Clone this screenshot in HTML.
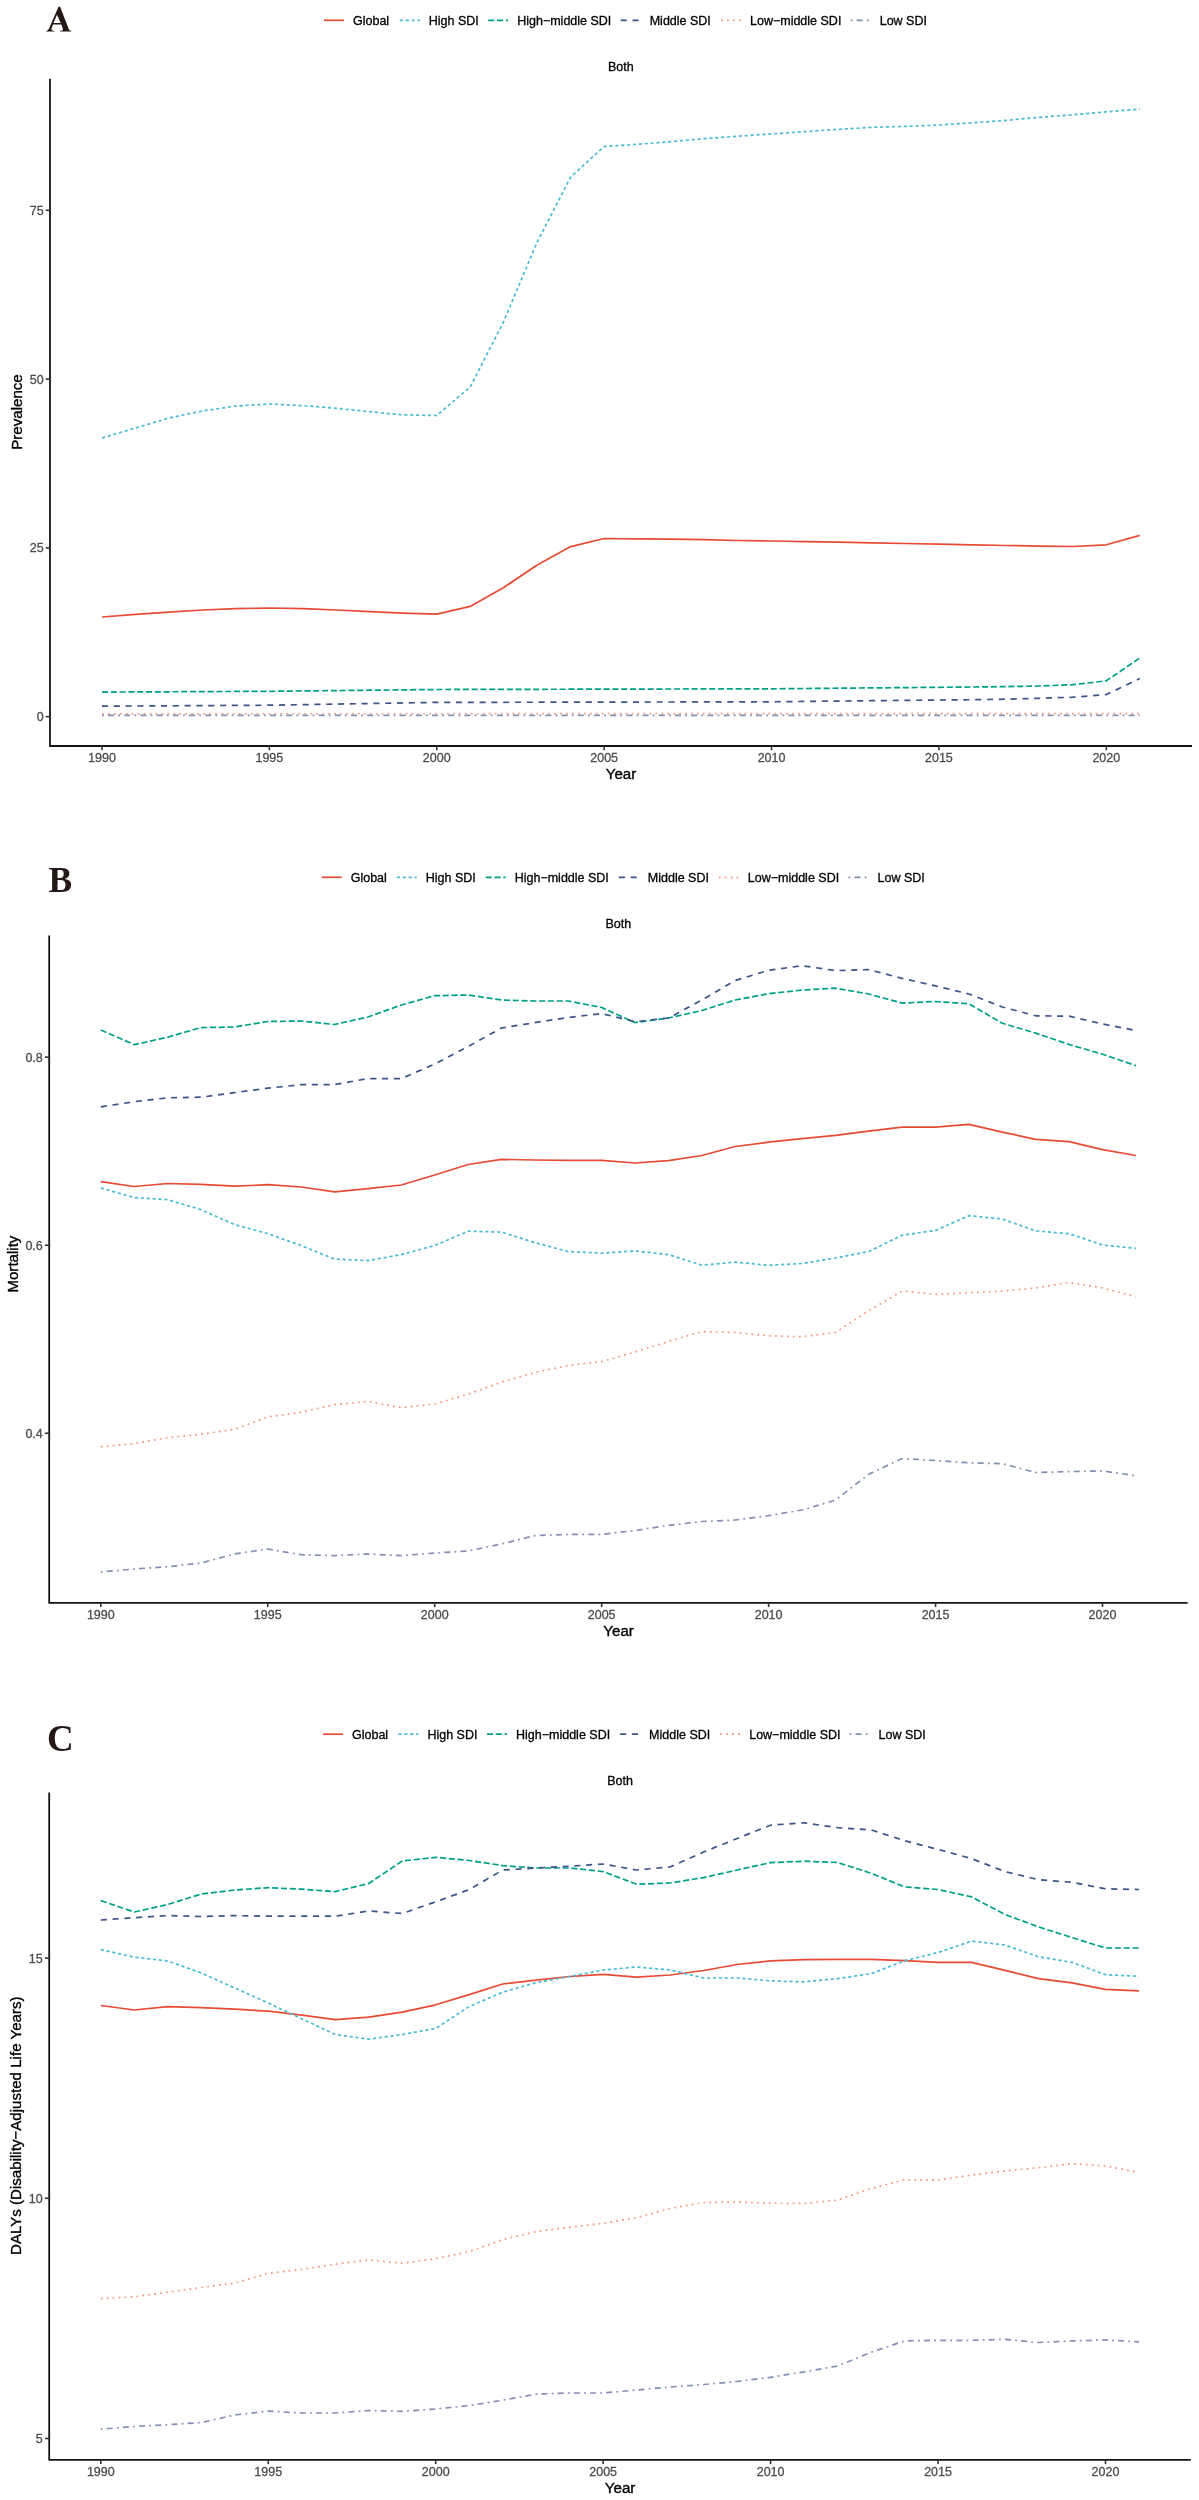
<!DOCTYPE html>
<html><head><meta charset="utf-8"><title>Figure</title>
<style>
html,body{margin:0;padding:0;background:#fff;}
svg{display:block;will-change:transform;}
.tk{font-family:"Liberation Sans",sans-serif;font-size:12.5px;fill:#4D4D4D;stroke:#4D4D4D;stroke-width:0.3px;}
.lg{font-family:"Liberation Sans",sans-serif;font-size:12.5px;fill:#000;stroke:#000;stroke-width:0.3px;}
.ti{font-family:"Liberation Sans",sans-serif;font-size:15.1px;fill:#000;stroke:#000;stroke-width:0.35px;}
.lt{font-family:"Liberation Serif",serif;font-weight:bold;font-size:35.5px;fill:#231815;}
</style></head>
<body>
<svg width="1199" height="2500" viewBox="0 0 1199 2500">
<rect width="1199" height="2500" fill="#fff"/>
<polyline points="102.00,617.00 135.48,614.30 168.95,612.20 202.43,610.00 235.91,608.60 269.38,608.00 302.86,608.60 336.34,610.00 369.82,611.60 403.29,613.10 436.77,614.20 470.25,606.40 503.72,587.50 537.20,565.00 570.68,546.60 604.15,538.50 637.63,538.80 671.11,539.10 704.59,539.60 738.06,540.50 771.54,541.00 805.02,541.60 838.49,542.20 871.97,542.90 905.45,543.50 938.92,544.20 972.40,544.80 1005.88,545.50 1039.36,546.10 1072.83,546.50 1106.31,544.80 1139.79,535.40" fill="none" stroke="#E64B35" stroke-width="1.7" stroke-linejoin="round"/>
<polyline points="102.00,438.00 135.48,428.00 168.95,418.00 202.43,411.00 235.91,406.00 269.38,404.00 302.86,405.60 336.34,408.30 369.82,411.70 403.29,414.90 436.77,415.50 470.25,386.90 503.72,321.50 537.20,242.00 570.68,177.00 604.15,146.50 637.63,144.30 671.11,141.60 704.59,138.60 738.06,136.20 771.54,133.90 805.02,131.60 838.49,129.30 871.97,127.30 905.45,126.40 938.92,125.00 972.40,122.80 1005.88,120.40 1039.36,117.30 1072.83,114.80 1106.31,111.90 1139.79,109.00" fill="none" stroke="#4DBBD5" stroke-width="1.7" stroke-dasharray="3.2 2.7" stroke-linejoin="round"/>
<polyline points="102.00,692.10 135.48,691.94 168.95,691.78 202.43,691.62 235.91,691.46 269.38,691.30 302.86,690.94 336.34,690.58 369.82,690.22 403.29,689.86 436.77,689.50 470.25,689.43 503.72,689.36 537.20,689.29 570.68,689.22 604.15,689.15 637.63,689.08 671.11,689.01 704.59,688.94 738.06,688.87 771.54,688.80 805.02,688.50 838.49,688.20 871.97,687.90 905.45,687.60 938.92,687.30 972.40,687.00 1005.88,686.60 1039.36,686.00 1072.83,684.70 1106.31,680.80 1139.79,658.00" fill="none" stroke="#00A087" stroke-width="1.7" stroke-dasharray="6.1 2.7" stroke-linejoin="round"/>
<polyline points="102.00,706.20 135.48,706.00 168.95,705.80 202.43,705.60 235.91,705.40 269.38,705.20 302.86,704.64 336.34,704.08 369.82,703.52 403.29,702.96 436.77,702.40 470.25,702.34 503.72,702.28 537.20,702.22 570.68,702.16 604.15,702.10 637.63,702.04 671.11,701.98 704.59,701.92 738.06,701.86 771.54,701.80 805.02,701.44 838.49,701.08 871.97,700.72 905.45,700.36 938.92,700.00 972.40,699.70 1005.88,699.20 1039.36,698.30 1072.83,697.20 1106.31,694.60 1139.79,678.50" fill="none" stroke="#3C5488" stroke-width="1.7" stroke-dasharray="6.1 5.7" stroke-linejoin="round"/>
<polyline points="102.00,713.80 135.48,713.79 168.95,713.79 202.43,713.78 235.91,713.77 269.38,713.77 302.86,713.76 336.34,713.75 369.82,713.75 403.29,713.74 436.77,713.74 470.25,713.73 503.72,713.72 537.20,713.72 570.68,713.71 604.15,713.70 637.63,713.70 671.11,713.69 704.59,713.68 738.06,713.68 771.54,713.67 805.02,713.66 838.49,713.66 871.97,713.65 905.45,713.65 938.92,713.64 972.40,713.63 1005.88,713.63 1039.36,713.62 1072.83,713.61 1106.31,713.61 1139.79,713.60" fill="none" stroke="#F39B7F" stroke-width="1.7" stroke-dasharray="1.8 4.15" stroke-linejoin="round"/>
<polyline points="102.00,715.30 135.48,715.30 168.95,715.30 202.43,715.30 235.91,715.30 269.38,715.30 302.86,715.30 336.34,715.30 369.82,715.30 403.29,715.30 436.77,715.30 470.25,715.30 503.72,715.30 537.20,715.30 570.68,715.30 604.15,715.30 637.63,715.30 671.11,715.30 704.59,715.30 738.06,715.30 771.54,715.30 805.02,715.30 838.49,715.30 871.97,715.30 905.45,715.30 938.92,715.30 972.40,715.30 1005.88,715.30 1039.36,715.30 1072.83,715.30 1106.31,715.30 1139.79,715.30" fill="none" stroke="#8491B4" stroke-width="1.7" stroke-dasharray="1.8 4.2 6.0 4.2" stroke-linejoin="round"/>
<path d="M50,78.7 V746 H1192" fill="none" stroke="#141414" stroke-width="1.8" stroke-linecap="butt" stroke-linejoin="miter"/>
<line x1="45.70" y1="716.7" x2="50" y2="716.7" stroke="#333" stroke-width="1.6"/>
<text x="43.6" y="721.25" class="tk" text-anchor="end">0</text>
<line x1="45.70" y1="547.9" x2="50" y2="547.9" stroke="#333" stroke-width="1.6"/>
<text x="43.6" y="552.45" class="tk" text-anchor="end">25</text>
<line x1="45.70" y1="379.1" x2="50" y2="379.1" stroke="#333" stroke-width="1.6"/>
<text x="43.6" y="383.65" class="tk" text-anchor="end">50</text>
<line x1="45.70" y1="210.3" x2="50" y2="210.3" stroke="#333" stroke-width="1.6"/>
<text x="43.6" y="214.85" class="tk" text-anchor="end">75</text>
<line x1="102.00" y1="746" x2="102.00" y2="750.30" stroke="#333" stroke-width="1.6"/>
<text x="102.00" y="762.0" class="tk" text-anchor="middle">1990</text>
<line x1="269.38" y1="746" x2="269.38" y2="750.30" stroke="#333" stroke-width="1.6"/>
<text x="269.38" y="762.0" class="tk" text-anchor="middle">1995</text>
<line x1="436.77" y1="746" x2="436.77" y2="750.30" stroke="#333" stroke-width="1.6"/>
<text x="436.77" y="762.0" class="tk" text-anchor="middle">2000</text>
<line x1="604.15" y1="746" x2="604.15" y2="750.30" stroke="#333" stroke-width="1.6"/>
<text x="604.15" y="762.0" class="tk" text-anchor="middle">2005</text>
<line x1="771.54" y1="746" x2="771.54" y2="750.30" stroke="#333" stroke-width="1.6"/>
<text x="771.54" y="762.0" class="tk" text-anchor="middle">2010</text>
<line x1="938.92" y1="746" x2="938.92" y2="750.30" stroke="#333" stroke-width="1.6"/>
<text x="938.92" y="762.0" class="tk" text-anchor="middle">2015</text>
<line x1="1106.31" y1="746" x2="1106.31" y2="750.30" stroke="#333" stroke-width="1.6"/>
<text x="1106.31" y="762.0" class="tk" text-anchor="middle">2020</text>
<line x1="324.00" y1="20.3" x2="344.00" y2="20.3" stroke="#E64B35" stroke-width="1.7"/>
<text x="353.00" y="24.75" class="lg">Global</text>
<line x1="399.80" y1="20.3" x2="419.80" y2="20.3" stroke="#4DBBD5" stroke-width="1.7" stroke-dasharray="3.2 2.7"/>
<text x="428.80" y="24.75" class="lg">High SDI</text>
<line x1="488.20" y1="20.3" x2="508.20" y2="20.3" stroke="#00A087" stroke-width="1.7" stroke-dasharray="6.1 2.7"/>
<text x="517.20" y="24.75" class="lg">High−middle SDI</text>
<line x1="620.70" y1="20.3" x2="640.70" y2="20.3" stroke="#3C5488" stroke-width="1.7" stroke-dasharray="6.1 5.7"/>
<text x="649.70" y="24.75" class="lg">Middle SDI</text>
<line x1="721.00" y1="20.3" x2="741.00" y2="20.3" stroke="#F39B7F" stroke-width="1.7" stroke-dasharray="1.8 4.15"/>
<text x="750.00" y="24.75" class="lg">Low−middle SDI</text>
<line x1="850.70" y1="20.3" x2="870.70" y2="20.3" stroke="#8491B4" stroke-width="1.7" stroke-dasharray="1.8 4.2 6.0 4.2"/>
<text x="879.70" y="24.75" class="lg">Low SDI</text>
<text x="620.9" y="71.3" class="lg" text-anchor="middle">Both</text>
<text x="621" y="779" class="ti" text-anchor="middle">Year</text>
<text x="0" y="0" class="ti" text-anchor="middle" transform="translate(21.9,412) rotate(-90)">Prevalence</text>
<path fill="#231815" fill-rule="evenodd" d="M58.5,6.8 L60.1,6.8 L68.9,29.5 Q69.6,30.7 71.4,30.9 L71.4,31.5 L60.0,31.5 L60.0,30.9 Q63.0,30.8 63.0,29.6 L61.4,24.4 L53.0,24.4 L51.4,29.0 Q51.2,30.8 54.4,30.9 L54.4,31.5 L46.2,31.5 L46.2,30.9 Q48.0,30.7 48.8,29.0 Z M57.0,14.8 L53.5,23.0 L60.7,23.0 Z"/>
<polyline points="100.80,1181.65 134.19,1186.50 167.58,1183.50 200.97,1184.40 234.36,1186.20 267.75,1184.70 301.14,1187.00 334.53,1191.90 367.92,1188.60 401.31,1185.00 434.70,1175.00 468.09,1164.50 501.48,1159.40 534.87,1160.00 568.26,1160.30 601.65,1160.30 635.04,1163.00 668.43,1160.60 701.82,1155.50 735.21,1146.50 768.60,1142.20 801.99,1138.60 835.38,1135.40 868.77,1131.10 902.16,1127.20 935.55,1127.20 968.94,1124.30 1002.33,1132.10 1035.72,1139.30 1069.11,1141.60 1102.50,1149.70 1135.89,1155.50" fill="none" stroke="#E64B35" stroke-width="1.7" stroke-linejoin="round"/>
<polyline points="100.80,1188.00 134.19,1197.60 167.58,1199.70 200.97,1209.60 234.36,1224.60 267.75,1233.60 301.14,1245.60 334.53,1259.10 367.92,1260.60 401.31,1254.60 434.70,1245.50 468.09,1231.20 501.48,1232.10 534.87,1242.60 568.26,1251.60 601.65,1253.10 635.04,1251.00 668.43,1254.60 701.82,1265.20 735.21,1262.10 768.60,1265.30 801.99,1263.50 835.38,1258.00 868.77,1251.50 902.16,1235.20 935.55,1230.40 968.94,1215.70 1002.33,1219.00 1035.72,1231.00 1069.11,1233.60 1102.50,1245.00 1135.89,1248.30" fill="none" stroke="#4DBBD5" stroke-width="1.7" stroke-dasharray="3.2 2.7" stroke-linejoin="round"/>
<polyline points="100.80,1030.00 134.19,1044.70 167.58,1037.20 200.97,1027.60 234.36,1027.00 267.75,1021.50 301.14,1021.00 334.53,1024.50 367.92,1017.00 401.31,1005.00 434.70,995.70 468.09,995.00 501.48,1000.00 534.87,1001.00 568.26,1001.00 601.65,1007.50 635.04,1022.60 668.43,1018.00 701.82,1010.50 735.21,1000.00 768.60,993.70 801.99,990.10 835.38,988.20 868.77,994.00 902.16,1003.10 935.55,1001.50 968.94,1003.80 1002.33,1023.30 1035.72,1033.10 1069.11,1044.50 1102.50,1054.20 1135.89,1065.60" fill="none" stroke="#00A087" stroke-width="1.7" stroke-dasharray="6.1 2.7" stroke-linejoin="round"/>
<polyline points="100.80,1106.80 134.19,1101.70 167.58,1097.80 200.97,1097.20 234.36,1092.70 267.75,1088.20 301.14,1084.60 334.53,1084.60 367.92,1078.60 401.31,1078.60 434.70,1064.00 468.09,1046.60 501.48,1028.00 534.87,1022.60 568.26,1017.50 601.65,1013.60 635.04,1021.70 668.43,1018.00 701.82,1000.00 735.21,980.50 768.60,970.30 801.99,965.70 835.38,970.60 868.77,969.60 902.16,978.40 935.55,985.90 968.94,994.00 1002.33,1007.00 1035.72,1015.80 1069.11,1016.20 1102.50,1024.00 1135.89,1030.50" fill="none" stroke="#3C5488" stroke-width="1.7" stroke-dasharray="6.1 5.7" stroke-linejoin="round"/>
<polyline points="100.80,1446.70 134.19,1443.60 167.58,1437.70 200.97,1434.20 234.36,1429.40 267.75,1417.00 301.14,1412.30 334.53,1404.60 367.92,1401.50 401.31,1407.60 434.70,1404.00 468.09,1394.20 501.48,1382.10 534.87,1372.50 568.26,1365.50 601.65,1361.60 635.04,1352.00 668.43,1341.50 701.82,1331.60 735.21,1332.50 768.60,1335.80 801.99,1336.70 835.38,1332.50 868.77,1310.70 902.16,1291.10 935.55,1294.40 968.94,1292.80 1002.33,1291.10 1035.72,1287.90 1069.11,1282.40 1102.50,1287.90 1135.89,1296.70" fill="none" stroke="#F39B7F" stroke-width="1.7" stroke-dasharray="1.8 4.15" stroke-linejoin="round"/>
<polyline points="100.80,1572.00 134.19,1569.00 167.58,1566.70 200.97,1563.00 234.36,1554.00 267.75,1549.00 301.14,1554.70 334.53,1555.60 367.92,1554.00 401.31,1555.60 434.70,1553.00 468.09,1551.00 501.48,1544.00 534.87,1535.60 568.26,1534.40 601.65,1534.40 635.04,1530.50 668.43,1525.40 701.82,1521.50 735.21,1520.00 768.60,1515.60 801.99,1510.00 835.38,1500.20 868.77,1474.20 902.16,1458.50 935.55,1460.50 968.94,1462.80 1002.33,1463.70 1035.72,1472.50 1069.11,1471.60 1102.50,1470.90 1135.89,1475.80" fill="none" stroke="#8491B4" stroke-width="1.7" stroke-dasharray="1.8 4.2 6.0 4.2" stroke-linejoin="round"/>
<path d="M49.2,935.5 V1602.8 H1187.6" fill="none" stroke="#141414" stroke-width="1.8" stroke-linecap="butt" stroke-linejoin="miter"/>
<line x1="44.90" y1="1433.25" x2="49.2" y2="1433.25" stroke="#333" stroke-width="1.6"/>
<text x="42.8" y="1437.80" class="tk" text-anchor="end">0.4</text>
<line x1="44.90" y1="1245.25" x2="49.2" y2="1245.25" stroke="#333" stroke-width="1.6"/>
<text x="42.8" y="1249.80" class="tk" text-anchor="end">0.6</text>
<line x1="44.90" y1="1057.15" x2="49.2" y2="1057.15" stroke="#333" stroke-width="1.6"/>
<text x="42.8" y="1061.70" class="tk" text-anchor="end">0.8</text>
<line x1="100.80" y1="1602.8" x2="100.80" y2="1607.10" stroke="#333" stroke-width="1.6"/>
<text x="100.80" y="1619.0" class="tk" text-anchor="middle">1990</text>
<line x1="267.75" y1="1602.8" x2="267.75" y2="1607.10" stroke="#333" stroke-width="1.6"/>
<text x="267.75" y="1619.0" class="tk" text-anchor="middle">1995</text>
<line x1="434.70" y1="1602.8" x2="434.70" y2="1607.10" stroke="#333" stroke-width="1.6"/>
<text x="434.70" y="1619.0" class="tk" text-anchor="middle">2000</text>
<line x1="601.65" y1="1602.8" x2="601.65" y2="1607.10" stroke="#333" stroke-width="1.6"/>
<text x="601.65" y="1619.0" class="tk" text-anchor="middle">2005</text>
<line x1="768.60" y1="1602.8" x2="768.60" y2="1607.10" stroke="#333" stroke-width="1.6"/>
<text x="768.60" y="1619.0" class="tk" text-anchor="middle">2010</text>
<line x1="935.55" y1="1602.8" x2="935.55" y2="1607.10" stroke="#333" stroke-width="1.6"/>
<text x="935.55" y="1619.0" class="tk" text-anchor="middle">2015</text>
<line x1="1102.50" y1="1602.8" x2="1102.50" y2="1607.10" stroke="#333" stroke-width="1.6"/>
<text x="1102.50" y="1619.0" class="tk" text-anchor="middle">2020</text>
<line x1="321.70" y1="877.3" x2="341.70" y2="877.3" stroke="#E64B35" stroke-width="1.7"/>
<text x="350.70" y="881.75" class="lg">Global</text>
<line x1="396.80" y1="877.3" x2="416.80" y2="877.3" stroke="#4DBBD5" stroke-width="1.7" stroke-dasharray="3.2 2.7"/>
<text x="425.80" y="881.75" class="lg">High SDI</text>
<line x1="485.70" y1="877.3" x2="505.70" y2="877.3" stroke="#00A087" stroke-width="1.7" stroke-dasharray="6.1 2.7"/>
<text x="514.70" y="881.75" class="lg">High−middle SDI</text>
<line x1="618.80" y1="877.3" x2="638.80" y2="877.3" stroke="#3C5488" stroke-width="1.7" stroke-dasharray="6.1 5.7"/>
<text x="647.80" y="881.75" class="lg">Middle SDI</text>
<line x1="718.80" y1="877.3" x2="738.80" y2="877.3" stroke="#F39B7F" stroke-width="1.7" stroke-dasharray="1.8 4.15"/>
<text x="747.80" y="881.75" class="lg">Low−middle SDI</text>
<line x1="848.50" y1="877.3" x2="868.50" y2="877.3" stroke="#8491B4" stroke-width="1.7" stroke-dasharray="1.8 4.2 6.0 4.2"/>
<text x="877.50" y="881.75" class="lg">Low SDI</text>
<text x="618.4" y="928.2" class="lg" text-anchor="middle">Both</text>
<text x="618.6" y="1635.75" class="ti" text-anchor="middle">Year</text>
<text x="0" y="0" class="ti" text-anchor="middle" transform="translate(17.9,1264.1) rotate(-90)">Mortality</text>
<text x="48.4" y="891.6" class="lt">B</text>
<polyline points="100.80,2005.50 134.29,2010.00 167.78,2006.70 201.27,2007.60 234.76,2009.10 268.25,2011.20 301.74,2015.10 335.23,2019.60 368.72,2017.20 402.21,2012.10 435.70,2004.80 469.19,1994.60 502.68,1984.00 536.17,1980.10 569.66,1976.50 603.15,1974.40 636.64,1977.10 670.13,1975.00 703.62,1970.50 737.11,1964.50 770.60,1960.80 804.09,1959.70 837.58,1959.40 871.07,1959.40 904.56,1960.70 938.05,1962.30 971.54,1962.30 1005.03,1970.40 1038.52,1978.60 1072.01,1982.80 1105.50,1989.30 1138.99,1990.90" fill="none" stroke="#E64B35" stroke-width="1.7" stroke-linejoin="round"/>
<polyline points="100.80,1949.60 134.29,1957.10 167.78,1961.00 201.27,1973.00 234.76,1988.00 268.25,2003.00 301.74,2018.70 335.23,2034.60 368.72,2039.10 402.21,2034.60 435.70,2028.40 469.19,2006.60 502.68,1992.20 536.17,1982.60 569.66,1976.50 603.15,1970.00 636.64,1967.00 670.13,1970.00 703.62,1978.00 737.11,1978.00 770.60,1980.90 804.09,1981.80 837.58,1978.60 871.07,1973.70 904.56,1960.70 938.05,1952.50 971.54,1941.10 1005.03,1945.00 1038.52,1956.80 1072.01,1962.30 1105.50,1974.70 1138.99,1976.30" fill="none" stroke="#4DBBD5" stroke-width="1.7" stroke-dasharray="3.2 2.7" stroke-linejoin="round"/>
<polyline points="100.80,1900.60 134.29,1912.00 167.78,1904.50 201.27,1894.00 234.76,1890.00 268.25,1887.70 301.74,1889.20 335.23,1891.60 368.72,1883.50 402.21,1861.00 435.70,1857.30 469.19,1860.50 502.68,1865.60 536.17,1868.00 569.66,1868.00 603.15,1871.60 636.64,1884.20 670.13,1883.00 703.62,1877.60 737.11,1870.00 770.60,1862.60 804.09,1861.20 837.58,1862.50 871.07,1873.20 904.56,1886.90 938.05,1889.50 971.54,1896.90 1005.03,1914.50 1038.52,1926.90 1072.01,1937.60 1105.50,1948.00 1138.99,1948.00" fill="none" stroke="#00A087" stroke-width="1.7" stroke-dasharray="6.1 2.7" stroke-linejoin="round"/>
<polyline points="100.80,1920.00 134.29,1917.70 167.78,1915.60 201.27,1916.50 234.76,1915.60 268.25,1916.20 301.74,1916.20 335.23,1916.20 368.72,1911.00 402.21,1913.50 435.70,1901.80 469.19,1889.60 502.68,1870.00 536.17,1868.00 569.66,1866.20 603.15,1864.00 636.64,1870.00 670.13,1867.00 703.62,1852.00 737.11,1838.50 770.60,1825.20 804.09,1822.80 837.58,1827.70 871.07,1829.90 904.56,1840.70 938.05,1849.40 971.54,1858.60 1005.03,1871.60 1038.52,1879.70 1072.01,1882.30 1105.50,1888.80 1138.99,1889.50" fill="none" stroke="#3C5488" stroke-width="1.7" stroke-dasharray="6.1 5.7" stroke-linejoin="round"/>
<polyline points="100.80,2298.70 134.29,2296.80 167.78,2292.20 201.27,2287.50 234.76,2283.00 268.25,2273.40 301.74,2269.40 335.23,2264.20 368.72,2260.00 402.21,2263.30 435.70,2258.60 469.19,2251.60 502.68,2239.60 536.17,2231.60 569.66,2227.20 603.15,2223.40 636.64,2217.60 670.13,2208.50 703.62,2202.50 737.11,2202.00 770.60,2203.20 804.09,2203.40 837.58,2200.20 871.07,2188.50 904.56,2179.70 938.05,2180.00 971.54,2175.10 1005.03,2170.90 1038.52,2167.70 1072.01,2163.70 1105.50,2166.00 1138.99,2172.50" fill="none" stroke="#F39B7F" stroke-width="1.7" stroke-dasharray="1.8 4.15" stroke-linejoin="round"/>
<polyline points="100.80,2429.20 134.29,2426.50 167.78,2424.70 201.27,2422.60 234.76,2415.00 268.25,2411.10 301.74,2413.00 335.23,2413.00 368.72,2410.50 402.21,2411.40 435.70,2409.00 469.19,2405.60 502.68,2400.20 536.17,2394.10 569.66,2393.00 603.15,2393.00 636.64,2390.00 670.13,2387.00 703.62,2384.50 737.11,2381.50 770.60,2377.30 804.09,2371.80 837.58,2366.00 871.07,2352.30 904.56,2340.90 938.05,2340.30 971.54,2340.30 1005.03,2339.30 1038.52,2342.50 1072.01,2340.90 1105.50,2339.90 1138.99,2341.90" fill="none" stroke="#8491B4" stroke-width="1.7" stroke-dasharray="1.8 4.2 6.0 4.2" stroke-linejoin="round"/>
<path d="M49.2,1792.4 V2459.8 H1190.8" fill="none" stroke="#141414" stroke-width="1.8" stroke-linecap="butt" stroke-linejoin="miter"/>
<line x1="44.90" y1="2438.5" x2="49.2" y2="2438.5" stroke="#333" stroke-width="1.6"/>
<text x="42.6" y="2443.05" class="tk" text-anchor="end">5</text>
<line x1="44.90" y1="2198.25" x2="49.2" y2="2198.25" stroke="#333" stroke-width="1.6"/>
<text x="42.6" y="2202.80" class="tk" text-anchor="end">10</text>
<line x1="44.90" y1="1958.1" x2="49.2" y2="1958.1" stroke="#333" stroke-width="1.6"/>
<text x="42.6" y="1962.65" class="tk" text-anchor="end">15</text>
<line x1="100.80" y1="2459.8" x2="100.80" y2="2464.10" stroke="#333" stroke-width="1.6"/>
<text x="100.80" y="2475.8" class="tk" text-anchor="middle">1990</text>
<line x1="268.25" y1="2459.8" x2="268.25" y2="2464.10" stroke="#333" stroke-width="1.6"/>
<text x="268.25" y="2475.8" class="tk" text-anchor="middle">1995</text>
<line x1="435.70" y1="2459.8" x2="435.70" y2="2464.10" stroke="#333" stroke-width="1.6"/>
<text x="435.70" y="2475.8" class="tk" text-anchor="middle">2000</text>
<line x1="603.15" y1="2459.8" x2="603.15" y2="2464.10" stroke="#333" stroke-width="1.6"/>
<text x="603.15" y="2475.8" class="tk" text-anchor="middle">2005</text>
<line x1="770.60" y1="2459.8" x2="770.60" y2="2464.10" stroke="#333" stroke-width="1.6"/>
<text x="770.60" y="2475.8" class="tk" text-anchor="middle">2010</text>
<line x1="938.05" y1="2459.8" x2="938.05" y2="2464.10" stroke="#333" stroke-width="1.6"/>
<text x="938.05" y="2475.8" class="tk" text-anchor="middle">2015</text>
<line x1="1105.50" y1="2459.8" x2="1105.50" y2="2464.10" stroke="#333" stroke-width="1.6"/>
<text x="1105.50" y="2475.8" class="tk" text-anchor="middle">2020</text>
<line x1="323.00" y1="1734.2" x2="343.00" y2="1734.2" stroke="#E64B35" stroke-width="1.7"/>
<text x="352.00" y="1738.65" class="lg">Global</text>
<line x1="398.40" y1="1734.2" x2="418.40" y2="1734.2" stroke="#4DBBD5" stroke-width="1.7" stroke-dasharray="3.2 2.7"/>
<text x="427.40" y="1738.65" class="lg">High SDI</text>
<line x1="487.00" y1="1734.2" x2="507.00" y2="1734.2" stroke="#00A087" stroke-width="1.7" stroke-dasharray="6.1 2.7"/>
<text x="516.00" y="1738.65" class="lg">High−middle SDI</text>
<line x1="620.10" y1="1734.2" x2="640.10" y2="1734.2" stroke="#3C5488" stroke-width="1.7" stroke-dasharray="6.1 5.7"/>
<text x="649.10" y="1738.65" class="lg">Middle SDI</text>
<line x1="720.20" y1="1734.2" x2="740.20" y2="1734.2" stroke="#F39B7F" stroke-width="1.7" stroke-dasharray="1.8 4.15"/>
<text x="749.20" y="1738.65" class="lg">Low−middle SDI</text>
<line x1="849.60" y1="1734.2" x2="869.60" y2="1734.2" stroke="#8491B4" stroke-width="1.7" stroke-dasharray="1.8 4.2 6.0 4.2"/>
<text x="878.60" y="1738.65" class="lg">Low SDI</text>
<text x="620.0" y="1785.2" class="lg" text-anchor="middle">Both</text>
<text x="620.1" y="2492.75" class="ti" text-anchor="middle">Year</text>
<text x="0" y="0" class="ti" text-anchor="middle" transform="translate(21.0,2125.75) rotate(-90)">DALYs (Disability−Adjusted Life Years)</text>
<text x="47.1" y="1751.2" class="lt" style="font-size:37px">C</text>
</svg>
</body></html>
